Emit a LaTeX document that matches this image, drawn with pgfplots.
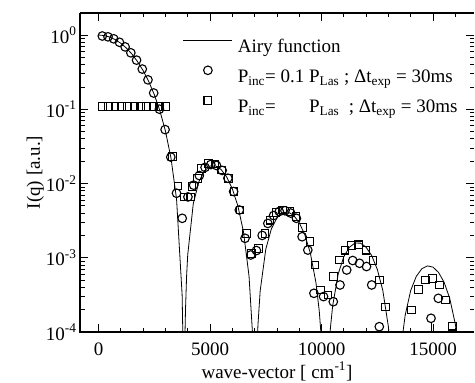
\documentclass[border=0pt]{standalone}
\usepackage{fontspec}
\setmainfont{Liberation Serif}
\usepackage{pgfplots}
\pgfplotsset{compat=1.18}
\pgfplotsset{
  mylineleg/.style={legend image code/.code={\draw[##1] (0bp,7bp) -- (49bp,7bp);}},
  mymarkleg/.style={legend image code/.code={\path[draw=none] (0bp,7bp) -- (49bp,7bp); \draw[##1] plot coordinates {(24.5bp,7bp)};}},
}
\begin{document}
\begin{tikzpicture}
\useasboundingbox (-80bp,-51bp) rectangle (395bp,332bp);
\begin{semilogyaxis}[
  at={(0bp,0bp)}, anchor=south west,
  scale only axis,
  width=394bp, height=319bp,
  xmin=-830, xmax=16838,
  ymin=1e-4, ymax=1.98,
  clip mode=individual,
  axis line style={draw=none},
  scaled x ticks=false,
  xtick={0,5000,10000,15000},
  xticklabels={0,5000,10000,15000},
  minor xtick={1000,2000,3000,4000,6000,7000,8000,9000,11000,12000,13000,14000,16000},
  ytick={1e-4,1e-3,1e-2,1e-1,1},
  yticklabels={10\textsuperscript{-4},10\textsuperscript{-3},10\textsuperscript{-2},10\textsuperscript{-1},10\textsuperscript{0}},
  minor ytick={2e-4,3e-4,4e-4,5e-4,6e-4,7e-4,8e-4,9e-4,2e-3,3e-3,4e-3,5e-3,6e-3,7e-3,8e-3,9e-3,2e-2,3e-2,4e-2,5e-2,6e-2,7e-2,8e-2,9e-2,0.2,0.3,0.4,0.5,0.6,0.7,0.8,0.9},
  tick style={black, line width=0.8bp},
  major tick length=8bp, minor tick length=4.5bp,
  ticklabel style={font=\fontsize{19bp}{22bp}\selectfont},
  xticklabel style={anchor=base, yshift=-23bp},
  label style={font=\fontsize{19bp}{22bp}\selectfont},
  xlabel={wave-vector [ cm\textsuperscript{-1}]},
  ylabel={I(q) [a.u.]},
  xlabel style={at={([yshift=-46bp]axis description cs:0.5,0)}, anchor=base},
  ylabel style={at={([xshift=-40bp]axis description cs:0,0.5)}, anchor=base},
  legend style={at={(axis description cs:0.2614,0.9216)}, anchor=north west, draw=none, fill=none,
    inner sep=0pt, outer sep=0pt, column sep=5bp, row sep=10bp,
    font=\fontsize{19bp}{22bp}\selectfont,
    nodes={inner sep=0pt, text height=14bp, text depth=4bp}},
  legend cell align=left,
]
\addplot[black, line width=0.8bp, no marks, mylineleg] coordinates {
(0,1) (250,0.9845) (500,0.9391) (750,0.8674) (1000,0.7746) (1250,0.6675)
(1500,0.5534) (1750,0.4382) (2000,0.3326) (2250,0.2376) (2500,0.1581)
(2750,0.09598) (3000,0.05109) (3250,0.02202) (3500,0.006162) (3750,0.0003145)
(3800,4.52e-5) (3831.7,1e-9) (3860,3.48e-5) (3880,1.005e-4) (3900,1.956e-4)
(3950,5.644e-4) (4000,0.001091) (4250,0.005359) (4500,0.010544) (4750,0.014826)
(5000,0.017169) (5250,0.017274) (5500,0.015415) (5750,0.012230) (6000,0.0085058)
(6250,0.0049885) (6500,0.0022406) (6750,0.00056638) (6900,1.023e-4) (6950,3.21e-5)
(7015.6,1e-9) (7100,5.03e-5) (7150,1.2485e-4) (7250,0.00035794) (7500,0.0013007)
(7750,0.0024449) (8000,0.0034409) (8250,0.0040405) (8500,0.0041298) (8750,0.0037306)
(9000,0.0029718) (9250,0.0020449) (9500,0.0011526) (9750,0.00046285) (9900,1.908e-4)
(10000,7.56e-5) (10173.5,1e-9) (10300,3.698e-5) (10400,1.138e-4) (10500,2.2557e-4)
(10750,6.0741e-4) (11000,0.0010332) (11250,0.0013848) (11500,0.0015775) (11750,0.0015740)
(12000,0.0013869) (12250,0.0010700) (12500,0.00070105) (12750,0.00036132) (13000,0.00011703)
(13100,5.563e-5) (13323.7,1e-9) (13500,3.178e-5) (13600,7.519e-5) (13750,1.6719e-4)
(14000,3.6304e-4) (14250,5.6188e-4) (14500,7.1182e-4) (14750,7.7780e-4) (15000,7.4788e-4)
(15250,6.3369e-4) (15500,4.6553e-4) (15750,2.8355e-4) (16000,1.2768e-4) (16100,7.995e-5)
(16470.6,1e-9)
};
\addlegendentry{Airy function}
\addplot[black, only marks, mark=o, mark size=4.3bp, line width=1.1bp, mymarkleg] coordinates {
(170,0.97) (426,0.945) (682,0.889) (938,0.799) (1194,0.692) (1450,0.576)
(1706,0.459) (1962,0.348) (2218,0.249) (2474,0.1656) (2730,0.1003) (2986,0.0532)
(3242,0.0227) (3498,0.0074) (3754,0.0034) (4010,0.0066) (4266,0.0095) (4522,0.0128)
(4778,0.0165) (5034,0.0180) (5290,0.0175) (5546,0.0150) (5802,0.0118) (6058,0.0078)
(6314,0.0044) (6570,0.00183) (6826,0.00109) (7082,0.00125) (7338,0.0020) (7594,0.0029)
(7850,0.0037) (8106,0.0042) (8362,0.0043) (8618,0.0040) (8874,0.0034) (9130,0.00192)
(9386,0.00127) (9659,0.000332) (10090,0.0003) (10529,0.000256) (10830,0.00043)
(11130,0.000684) (11399,0.000918) (11704,0.000842) (12018,0.000762) (12251,0.00043)
(12592,0.000118) (14910,0.000153) (15238,0.000284)
};
\addlegendentry{P\textsubscript{inc}= 0.1 P\textsubscript{Las} ; Δt\textsubscript{exp} = 30ms}
\addplot[black, only marks, mark=square, mark size=3.9bp, line width=1.1bp, mymarkleg] coordinates {
(170,0.11) (455,0.11) (740,0.11) (1025,0.11) (1310,0.11) (1595,0.11) (1880,0.11)
(2165,0.11) (2450,0.11) (2735,0.11) (3020,0.11)
(3309,0.0230) (3565,0.00925) (3834,0.00658) (4126,0.00658) (4193,0.00906)
(4430,0.01175) (4628,0.0160) (4924,0.0187) (5224,0.0183) (5525,0.0152) (5821,0.01175)
(6076,0.00776) (6345,0.0044) (6646,0.00213) (6870,0.00115) (7166,0.00134) (7466,0.00213)
(7691,0.00322) (7960,0.00404) (8260,0.0044) (8587,0.00417) (8857,0.00357) (9157,0.00257)
(9484,0.00164) (9709,0.000798) (9969,0.000368) (10291,0.000315) (10552,0.000556)
(10816,0.000933) (11054,0.00127) (11354,0.00146) (11673,0.00149) (11996,0.00127)
(12309,0.000918) (12592,0.000501) (12870,0.000217) (14045,0.000198) (14359,0.000371)
(14655,0.000501) (14978,0.000528) (15278,0.000429) (15574,0.000270) (15883,0.000120)
};
\addlegendentry{P\textsubscript{inc}= \phantom{0.1 }P\textsubscript{Las}\ \ ; Δt\textsubscript{exp} = 30ms}
\addplot[black, line width=0.8bp, forget plot] coordinates {(14910,1e-4) (14910,1.33e-4)};
\draw[black, line width=1.4bp] (rel axis cs:0,1) -- (rel axis cs:0,0) -- (rel axis cs:1,0);
\draw[black, line width=1.2bp] (rel axis cs:0,1) -- (rel axis cs:1,1);
\end{semilogyaxis}
\end{tikzpicture}
\end{document}
